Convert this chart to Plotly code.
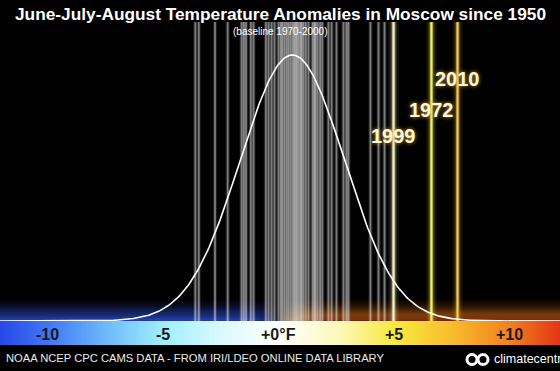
import numpy as np
import plotly.graph_objects as go

# ---------------- data (°F anomalies) ----------------
anomalies = [-3.6, -3.45, -2.75, -2.2, -1.6, -1.4, -1.2, -1.08, -0.55, -0.43, -0.17,
             0.0, 0.17, 0.26, 0.43, 0.61, 0.74, 0.87, 1.0, 1.08, 1.3, 1.47, 1.6, 1.69,
             1.9, 2.16, 2.51, 2.81, 2.94, 3.03, 3.98, 4.33, 4.59,
             -1.5, -0.3, 0.1, 0.52, 0.8, 1.18, 1.55, 1.8, 2.3, 0.35, 0.68, 0.95]
highlight_years = ["1999", "1972", "2010"]
highlight_values = [4.98, 6.62, 7.75]
highlight_colors = ["rgb(242,240,205)", "rgb(240,238,120)", "rgb(236,205,100)"]
glow_colors = ["rgba(230,225,170,{a})", "rgba(225,215,60,{a})", "rgba(220,170,40,{a})"]
fit_mean = 0.6     # fitted normal distribution (°F)
fit_sd = 2.25
tick_vals = [-10, -5, 0, 5, 10]
tick_text = ["-10", "-5", "+0°F", "+5", "+10"]

# ---------------- geometry helpers ----------------
W, H = 560, 371
X0, XPX = 278.5, 23.1           # pixel of 0°F, pixels per °F
xmin, xmax = -X0 / XPX, (W - X0) / XPX
BAR_TOP, BAR_BOT = 321, 345     # colour bar pixel rows
PEAK_PX = 55

def ppy(p):  # pixel row -> paper y
    return (H - p) / H

peak = 1.0 / (fit_sd * np.sqrt(2 * np.pi))
R = peak * BAR_TOP / (BAR_TOP - PEAK_PX)

def py(p):  # pixel row -> main y data
    return R * (BAR_TOP - p) / BAR_TOP

fig = go.Figure()

# glow above colour bar
gx = np.linspace(xmin, xmax, 200)
gy = np.linspace(py(BAR_TOP), py(BAR_TOP - 24), 12)
side = np.tanh(gx / 0.8)
fade = np.clip(1 - (np.arange(len(gy)) / (len(gy) - 1)), 0, 1) ** 1.5
gz = np.outer(fade, side)
fig.add_trace(go.Heatmap(x=gx, y=gy, z=gz, zmin=-1, zmax=1, zsmooth="best", showscale=False,
                         colorscale=[[0, "rgb(40,70,190)"], [0.5, "rgb(0,0,0)"], [0.8, "rgb(120,60,10)"],
                                     [1, "rgb(130,40,10)"]], hoverinfo="skip"))

ytop = py(22)
# gray year lines
lx, ly = [], []
for a in anomalies:
    lx += [a, a, None]
    ly += [0, ytop, None]
fig.add_trace(go.Scatter(x=lx, y=ly, mode="lines", line=dict(color="rgba(255,255,255,0.12)", width=4),
                         hoverinfo="skip", showlegend=False))
fig.add_trace(go.Scatter(x=lx, y=ly, mode="lines", line=dict(color="rgba(255,255,255,0.42)", width=1.8),
                         hoverinfo="skip", showlegend=False))

# highlighted years with glow
for v, c, g in zip(highlight_values, highlight_colors, glow_colors):
    for w, a in [(10, 0.10), (6, 0.2), (3.5, 0.45)]:
        fig.add_trace(go.Scatter(x=[v, v], y=[0, ytop], mode="lines",
                                 line=dict(color=g.format(a=a), width=w), hoverinfo="skip", showlegend=False))
    fig.add_trace(go.Scatter(x=[v, v], y=[0, ytop], mode="lines",
                             line=dict(color=c, width=2), hoverinfo="skip", showlegend=False))

# top fade overlay
fy = np.linspace(py(95), py(20), 10)
fz = [[t, t] for t in np.linspace(0, 1, len(fy))]
fig.add_trace(go.Heatmap(x=[xmin, xmax], y=fy, z=fz, zmin=0, zmax=1, zsmooth="best", showscale=False,
                         colorscale=[[0, "rgba(0,0,0,0)"], [1, "rgba(0,0,0,1)"]], hoverinfo="skip"))

# fitted normal curve
cx = np.linspace(xmin, xmax, 400)
cy = peak * np.exp(-0.5 * ((cx - fit_mean) / fit_sd) ** 2)
fig.add_trace(go.Scatter(x=cx, y=cy, mode="lines", line=dict(color="white", width=1.6),
                         hoverinfo="skip", showlegend=False))

# colour bar
bx = np.linspace(xmin, xmax, 300)
stops = [(xmin, "rgb(40,72,232)"), (-10, "rgb(66,118,244)"), (-7.5, "rgb(108,186,250)"),
         (-5, "rgb(160,238,255)"), (-2.5, "rgb(218,250,255)"), (0, "rgb(255,255,255)"),
         (2.5, "rgb(253,248,190)"), (5, "rgb(248,234,62)"), (7.5, "rgb(248,188,44)"),
         (10, "rgb(242,128,32)"), (xmax, "rgb(228,52,20)")]
cscale = [[(s - xmin) / (xmax - xmin), c] for s, c in stops]
fig.add_trace(go.Heatmap(x=bx, y=[0, 1], z=[bx, bx], zmin=xmin, zmax=xmax, zsmooth="best",
                         colorscale=cscale, showscale=False, yaxis="y2", hoverinfo="skip"))

fig.update_layout(
    width=W, height=H, margin=dict(l=0, r=0, t=0, b=0),
    paper_bgcolor="black", plot_bgcolor="black", showlegend=False,
    xaxis=dict(range=[xmin, xmax], visible=False, domain=[0, 1]),
    yaxis=dict(range=[0, R], visible=False, domain=[ppy(BAR_TOP), 1]),
    yaxis2=dict(range=[0, 1], visible=False, domain=[ppy(BAR_BOT), ppy(BAR_TOP)]),
)

ann = []
ann.append(dict(text="June-July-August Temperature Anomalies in Moscow since 1950", x=0.5, y=ppy(14),
                xref="paper", yref="paper", showarrow=False, xanchor="center", yanchor="middle",
                font=dict(family="Liberation Sans, Arial", size=17.3, color="white", weight="bold")))
ann.append(dict(text="(baseline 1970-2000)", x=0.5, y=ppy(31), xref="paper", yref="paper", showarrow=False,
                xanchor="center", yanchor="middle",
                font=dict(family="Liberation Sans, Arial", size=10, color="white")))
for yr, v, p in zip(highlight_years, highlight_values, [136, 110, 79]):
    ann.append(dict(text=yr, x=v, y=ppy(p), xref="x", yref="paper", showarrow=False,
                    xanchor="center", yanchor="middle",
                    font=dict(family="Liberation Sans", size=20,
                              color="rgb(255,248,215)", weight="bold",
                              shadow="0px 0px 4px rgba(230,180,60,0.9)")))
for v, t in zip(tick_vals, tick_text):
    ann.append(dict(text=t, x=v, y=ppy(334), xref="x", yref="paper", showarrow=False,
                    xanchor="center", yanchor="middle",
                    font=dict(family="Liberation Sans, Arial", size=16, color="rgb(25,25,25)", weight="bold")))
ann.append(dict(text="NOAA NCEP CPC CAMS DATA - FROM IRI/LDEO ONLINE DATA LIBRARY", x=4 / W, y=ppy(358),
                xref="paper", yref="paper", showarrow=False, xanchor="left", yanchor="middle",
                font=dict(family="Liberation Sans, Arial", size=11.2, color="rgb(235,235,235)")))
ann.append(dict(text="climatecentral", x=492 / W, y=ppy(359), xref="paper", yref="paper", showarrow=False,
                xanchor="left", yanchor="middle",
                font=dict(family="Liberation Sans, Arial", size=12.5, color="white")))
fig.update_layout(annotations=ann)

shapes = []
for cxp in [472, 483]:
    shapes.append(dict(type="circle", xref="paper", yref="paper",
                       x0=(cxp - 5) / W, x1=(cxp + 5) / W, y0=ppy(364.5), y1=ppy(354.5),
                       line=dict(color="white", width=3)))
fig.update_layout(shapes=shapes)

fig.write_html("out.html", config={"displayModeBar": False},
               post_script="document.body.style.margin='0';document.body.style.overflow='hidden';")
